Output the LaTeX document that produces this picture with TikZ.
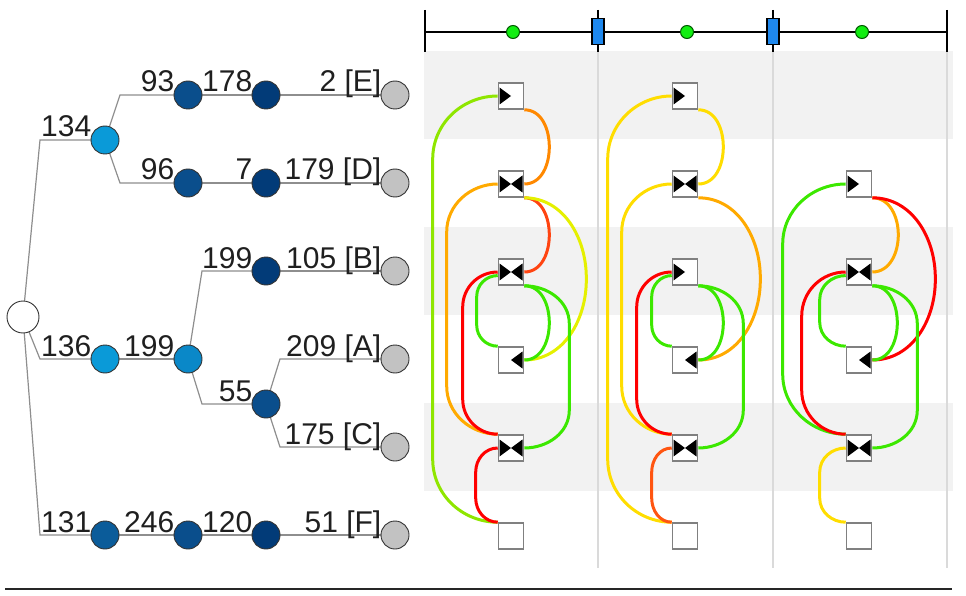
\documentclass[tikz,border=0pt]{standalone}
\usepackage{fontspec}
\setmainfont{Liberation Sans}
\usetikzlibrary{calc}
\pgfdeclarelayer{back}
\pgfdeclarelayer{mid}
\pgfsetlayers{back,mid,main}
\definecolor{lblue}{HTML}{0A9AD8}
\definecolor{mblue}{HTML}{0A88C8}
\definecolor{nblue}{HTML}{0B5C9A}
\definecolor{dblue}{HTML}{0A4E8C}
\definecolor{xblue}{HTML}{023B78}
\definecolor{leafgray}{HTML}{C2C2C2}
\definecolor{edgegray}{HTML}{8E8E8E}
\definecolor{bandgray}{HTML}{F2F2F2}
\definecolor{sepgray}{HTML}{DADADA}
\definecolor{sqgray}{HTML}{808080}
\definecolor{axblue}{HTML}{1E88EE}
\definecolor{dotgreen}{HTML}{11EE11}
\definecolor{cyg}{HTML}{8FE600}
\definecolor{cor}{HTML}{FF8800}
\definecolor{cam}{HTML}{FFAA00}
\definecolor{cro}{HTML}{FF4411}
\definecolor{cye}{HTML}{E5F000}
\definecolor{cred}{HTML}{FF0000}
\definecolor{cgr}{HTML}{3CE800}
\definecolor{cyl}{HTML}{FFDD00}
\definecolor{corr}{HTML}{FF5511}
\newcommand\rarc[5]{\draw[arcline,#1] (#2) to[out=0,in=90] ($(#2)+(#4,-#5)$) -- ($(#3)+(#4,#5)$) to[out=-90,in=0] (#3);}
\newcommand\larc[5]{\draw[arcline,#1] (#2) to[out=180,in=90] ($(#2)+(-#4,-#5)$) -- ($(#3)+(-#4,#5)$) to[out=-90,in=180] (#3);}
\begin{document}
\begin{tikzpicture}[x=1pt,y=1pt,
  tn/.style={circle, draw=black!80, line width=0.9pt, minimum size=28pt, inner sep=0pt},
  lbl/.style={anchor=base east, inner sep=0pt, font=\fontsize{30}{34}\selectfont, text=black!88},
  edge/.style={draw=edgegray, line width=1.2pt},
  arcline/.style={line width=3pt},
  sq/.style={rectangle, draw=sqgray, fill=white, line width=1.6pt, minimum width=25pt, minimum height=26pt, inner sep=0pt},
  tl/.style={path picture={\fill[black] ($(path picture bounding box.west)+(1,8.5)$) -- ++(0,-17) -- ++(11.5,8.5) -- cycle;}},
  tr/.style={path picture={\fill[black] ($(path picture bounding box.east)+(-1,8.5)$) -- ++(0,-17) -- ++(-11.5,8.5) -- cycle;}},
  bow/.style={path picture={\fill[black] ($(path picture bounding box.west)+(1,8.5)$) -- ++(0,-17) -- ++(11.5,8.5) -- cycle;
     \fill[black] ($(path picture bounding box.east)+(-1,8.5)$) -- ++(0,-17) -- ++(-11.5,8.5) -- cycle;}},
  tick/.style={line width=1.8pt},
  brect/.style={rectangle, draw=black, line width=1.5pt, fill=axblue, minimum width=12pt, minimum height=26pt, inner sep=0pt},
  gdot/.style={circle, draw=black!65!green, line width=1pt, fill=dotgreen, minimum size=13pt, inner sep=0pt}
]
\useasboundingbox (0,0) rectangle (966,-596);

% background bands and separators
\begin{pgfonlayer}{back}
\fill[bandgray] (424,-51) rectangle (953,-139);
\fill[bandgray] (424,-227) rectangle (953,-315);
\fill[bandgray] (424,-403) rectangle (953,-491);
\foreach \x in {598,773,947} \draw[sepgray, line width=1.5pt] (\x,-52) -- (\x,-568);
\end{pgfonlayer}

% top axis
\coordinate (axL) at (425,-32);
\coordinate (axR) at (947,-32);
\draw[line width=1.5pt] (axL) -- (axR);
\foreach \x in {425,598,773,947} \draw[tick] (\x,-10) -- (\x,-52);
\node[brect] (b1) at (598,-31.5) {};
\node[brect] (b2) at (773,-31.5) {};
\node[gdot] (g1) at (513,-32) {};
\node[gdot] (g2) at (687,-32) {};
\node[gdot] (g3) at (862,-32) {};

% tree nodes
\node[tn,fill=white,minimum size=32pt] (root) at (23,-317) {};
\node[tn,fill=lblue] (n134) at (105,-140) {};
\node[tn,fill=dblue] (n93) at (188,-95) {};
\node[tn,fill=xblue] (n178) at (266,-95) {};
\node[tn,fill=leafgray] (lE) at (395,-95) {};
\node[tn,fill=dblue] (n96) at (188,-183) {};
\node[tn,fill=xblue] (n7) at (266,-183) {};
\node[tn,fill=leafgray] (lD) at (395,-183) {};
\node[tn,fill=lblue] (n136) at (105,-359) {};
\node[tn,fill=mblue] (n199a) at (188,-359) {};
\node[tn,fill=xblue] (n199b) at (266,-271) {};
\node[tn,fill=leafgray] (lB) at (395,-271) {};
\node[tn,fill=dblue] (n55) at (266,-404) {};
\node[tn,fill=leafgray] (lA) at (395,-359) {};
\node[tn,fill=leafgray] (lC) at (395,-447) {};
\node[tn,fill=nblue] (n131) at (105,-535) {};
\node[tn,fill=dblue] (n246) at (188,-535) {};
\node[tn,fill=xblue] (n120) at (266,-535) {};
\node[tn,fill=leafgray] (lF) at (395,-535) {};

% labels
\node[lbl] (t134) at ($(n134)+(-13.5,3)$) {134};
\node[lbl] (t93) at ($(n93)+(-13.5,3)$) {93};
\node[lbl] (t178) at ($(n178)+(-13.5,3)$) {178};
\node[lbl] (tE) at ($(lE)+(-13.5,3)$) {2 [E]};
\node[lbl] (t96) at ($(n96)+(-13.5,3)$) {96};
\node[lbl] (t7) at ($(n7)+(-13.5,3)$) {7};
\node[lbl] (tD) at ($(lD)+(-13.5,3)$) {179 [D]};
\node[lbl] (t199b) at ($(n199b)+(-13.5,3)$) {199};
\node[lbl] (tB) at ($(lB)+(-13.5,3)$) {105 [B]};
\node[lbl] (t136) at ($(n136)+(-13.5,3)$) {136};
\node[lbl] (t199a) at ($(n199a)+(-13.5,3)$) {199};
\node[lbl] (tA) at ($(lA)+(-13.5,3)$) {209 [A]};
\node[lbl] (t55) at ($(n55)+(-13.5,3)$) {55};
\node[lbl] (tC) at ($(lC)+(-13.5,3)$) {175 [C]};
\node[lbl] (t131) at ($(n131)+(-13.5,3)$) {131};
\node[lbl] (t246) at ($(n246)+(-13.5,3)$) {246};
\node[lbl] (t120) at ($(n120)+(-13.5,3)$) {120};
\node[lbl] (tF) at ($(lF)+(-13.5,3)$) {51 [F]};

% tree edges
\begin{pgfonlayer}{mid}
\draw[edge] (root.center) -- ([xshift=-65pt]n134.center) -- (n134.center);
\draw[edge] (root.center) -- ([xshift=-65pt]n136.center) -- (n136.center);
\draw[edge] (root.center) -- ([xshift=-65pt]n131.center) -- (n131.center);
\draw[edge] (n134.center) -- ([xshift=-68pt]n93.center) -- (n93.center);
\draw[edge] (n134.center) -- ([xshift=-68pt]n96.center) -- (n96.center);
\draw[edge] (n93) -- (n178) -- (lE);
\draw[edge] (n96) -- (n7) -- (lD);
\draw[edge] (n136) -- (n199a);
\draw[edge] (n199a.center) -- ([xshift=-64pt]n199b.center) -- (n199b.center);
\draw[edge] (n199a.center) -- ([xshift=-64pt]n55.center) -- (n55.center);
\draw[edge] (n199b) -- (lB);
\draw[edge] (n55.center) -- ([xshift=-115pt]lA.center) -- (lA.center);
\draw[edge] (n55.center) -- ([xshift=-115pt]lC.center) -- (lC.center);
\draw[edge] (n131) -- (n246) -- (n120) -- (lF);
\end{pgfonlayer}

% squares
\node[sq,tl] (p1r1) at (511,-96) {};
\node[sq,bow] (p1r2) at (511,-184) {};
\node[sq,bow] (p1r3) at (511,-272) {};
\node[sq,tr] (p1r4) at (511,-360) {};
\node[sq,bow] (p1r5) at (511,-448) {};
\node[sq] (p1r6) at (511,-536) {};
\node[sq,tl] (p2r1) at (685,-96) {};
\node[sq,bow] (p2r2) at (685,-184) {};
\node[sq,tl] (p2r3) at (685,-272) {};
\node[sq,tr] (p2r4) at (685,-360) {};
\node[sq,bow] (p2r5) at (685,-448) {};
\node[sq] (p2r6) at (685,-536) {};
\node[sq,tl] (p3r2) at (859,-184) {};
\node[sq,bow] (p3r3) at (859,-272) {};
\node[sq,tr] (p3r4) at (859,-360) {};
\node[sq,bow] (p3r5) at (859,-448) {};
\node[sq] (p3r6) at (859,-536) {};

% arcs
\begin{pgfonlayer}{mid}
\larc{cyg}{p1r1.west}{p1r6.north west}{65}{63}
\larc{cam}{p1r2.west}{p1r5.north west}{51}{48}
\larc{cred}{p1r3.west}{p1r5.north west}{35}{35}
\larc{cgr}{p1r3.195}{p1r4.north west}{21}{21}
\larc{cred}{p1r5.west}{p1r6.north west}{22}{24}
\rarc{cor}{p1r1.south east}{p1r2.east}{25}{37}
\rarc{cro}{p1r2.south east}{p1r3.east}{25}{37}
\rarc{cye}{p1r2.south east}{p1r4.east}{62}{80}
\rarc{cgr}{p1r3.south east}{p1r4.east}{25}{37}
\rarc{cgr}{p1r3.south east}{p1r5.east}{45}{38}

\larc{cyl}{p2r1.west}{p2r6.north west}{64}{63}
\larc{cyl}{p2r2.west}{p2r5.north west}{50}{48}
\larc{cred}{p2r3.west}{p2r5.north west}{35}{35}
\larc{cgr}{p2r3.195}{p2r4.north west}{20}{21}
\larc{corr}{p2r5.west}{p2r6.north west}{20}{24}
\rarc{cyl}{p2r1.south east}{p2r2.east}{25}{37}
\rarc{cam}{p2r2.south east}{p2r4.east}{62}{80}
\rarc{cgr}{p2r3.south east}{p2r4.east}{25}{37}
\rarc{cgr}{p2r3.south east}{p2r5.east}{45}{38}

\larc{cgr}{p3r2.west}{p3r5.north west}{63}{60}
\larc{cred}{p3r3.west}{p3r5.north west}{44}{44}
\larc{cgr}{p3r3.195}{p3r4.north west}{26}{24}
\larc{cyl}{p3r5.west}{p3r6.north west}{26}{24}
\rarc{cam}{p3r2.south east}{p3r3.east}{26}{37}
\rarc{cred}{p3r2.south east}{p3r4.east}{63}{80}
\rarc{cgr}{p3r3.south east}{p3r4.east}{25}{37}
\rarc{cgr}{p3r3.south east}{p3r5.east}{45}{38}
\end{pgfonlayer}

% bottom rule
\coordinate (bl) at (5,-589);
\coordinate (br) at (952,-589);
\draw[line width=2pt, black!85] (bl) -- (br);
\end{tikzpicture}
\end{document}
